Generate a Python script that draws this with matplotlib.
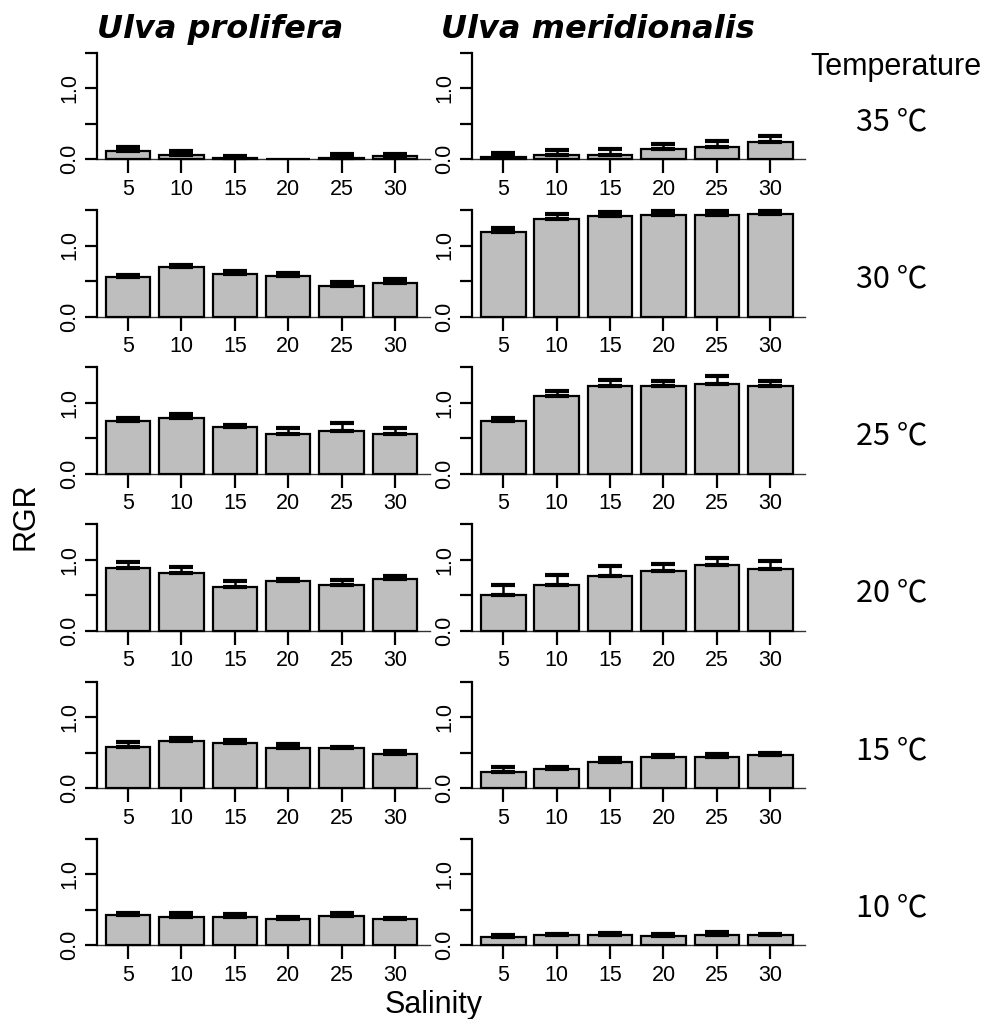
import numpy as np
import matplotlib
matplotlib.use("Agg")
import matplotlib.pyplot as plt
from matplotlib import font_manager as fm

# ===== data =====
salinity = ["5", "10", "15", "20", "25", "30"]
temps = ["35 ℃", "30 ℃", "25 ℃", "20 ℃", "15 ℃", "10 ℃"]
species = ["Ulva prolifera", "Ulva meridionalis"]

# U. prolifera, rows = 35, 30, 25, 20, 15, 10 ℃
pro_mean = [
    [0.12, 0.06, 0.02, 0.00, 0.02, 0.04],
    [0.55, 0.695, 0.605, 0.57, 0.43, 0.47],
    [0.74, 0.78, 0.66, 0.557, 0.60, 0.557],
    [0.89, 0.81, 0.615, 0.70, 0.648, 0.732],
    [0.58, 0.66, 0.63, 0.56, 0.566, 0.486],
    [0.43, 0.40, 0.40, 0.375, 0.418, 0.37],
]
pro_se = [
    [0.05, 0.06, 0.03, 0.00, 0.06, 0.03],
    [0.03, 0.032, 0.035, 0.045, 0.055, 0.055],
    [0.05, 0.06, 0.02, 0.093, 0.11, 0.083],
    [0.087, 0.087, 0.089, 0.037, 0.07, 0.043],
    [0.07, 0.04, 0.05, 0.06, 0.019, 0.034],
    [0.03, 0.06, 0.037, 0.019, 0.032, 0.02],
]

# U. meridionalis
mer_mean = [
    [0.03, 0.056, 0.06, 0.145, 0.17, 0.245],
    [1.19, 1.37, 1.415, 1.43, 1.43, 1.44],
    [0.74, 1.10, 1.23, 1.23, 1.27, 1.23],
    [0.507, 0.653, 0.775, 0.85, 0.925, 0.878],
    [0.23, 0.27, 0.373, 0.434, 0.44, 0.467],
    [0.117, 0.14, 0.146, 0.136, 0.146, 0.146],
]
mer_se = [
    [0.055, 0.074, 0.09, 0.075, 0.09, 0.085],
    [0.06, 0.07, 0.055, 0.05, 0.05, 0.045],
    [0.05, 0.06, 0.09, 0.07, 0.11, 0.08],
    [0.141, 0.131, 0.135, 0.09, 0.105, 0.112],
    [0.07, 0.03, 0.047, 0.026, 0.04, 0.033],
    [0.033, 0.02, 0.034, 0.028, 0.044, 0.018],
]

# ===== fonts =====
names = {f.name for f in fm.fontManager.ttflist}
narrow = "Liberation Sans Narrow" if "Liberation Sans Narrow" in names else "Noto Sans CJK SC"
plt.rcParams["font.family"] = ["Liberation Sans", "DejaVu Sans"]

# ===== figure =====
W, H = 989, 1019
fig = plt.figure(figsize=(W / 100, H / 100), dpi=100)

bar_x = 0.7 + 1.2 * np.arange(6)
col_left = [93.3, 468.6]
col_w = 336.4
row_zero0 = 159.3
row_step = 157.2
px_per_unit = 71.0

for col, (means, ses) in enumerate([(pro_mean, pro_se), (mer_mean, mer_se)]):
    for row in range(6):
        y0 = row_zero0 + row_step * row
        bottom = y0 + 0.06 * px_per_unit
        height = 1.62 * px_per_unit
        ax = fig.add_axes([col_left[col] / W, 1 - bottom / H, col_w / W, height / H])
        m = np.array(means[row])
        s = np.array(ses[row])
        ax.bar(bar_x, m, width=1.0, color="#bebebe", edgecolor="black",
               linewidth=1.6, zorder=2)
        ok = s > 0
        ax.errorbar(bar_x[ok], m[ok], yerr=[np.zeros(ok.sum()), s[ok]],
                    fmt="none", ecolor="black", elinewidth=1.8,
                    capsize=8.5, capthick=3, zorder=3)
        ax.set_xlim(-0.08, 7.48)
        ax.set_ylim(-0.06, 1.56)
        for sp in ["top", "right"]:
            ax.spines[sp].set_visible(False)
        ax.spines["left"].set_position(("data", 0))
        ax.spines["left"].set_bounds(0, 1.5)
        ax.spines["left"].set_linewidth(1.6)
        ax.spines["bottom"].set_position(("data", 0))
        ax.spines["bottom"].set_bounds(0, 7.48)
        ax.spines["bottom"].set_linewidth(1.0)
        ax.spines["bottom"].set_color("#333333")
        ax.spines["bottom"].set_zorder(1)
        ax.set_xticks(bar_x)
        ax.set_xticklabels(salinity, fontsize=15.5)
        ax.set_yticks([0, 0.5, 1.0, 1.5])
        ax.set_yticklabels(["0.0", "", "1.0", ""], fontsize=15.5, rotation=90,
                           va="center")
        ax.tick_params(axis="x", length=10, width=1.6, pad=4, color="black")
        ax.tick_params(axis="y", length=9, width=1.6, pad=3)
        ax.patch.set_visible(False)

# ===== labels =====
fig.text(220 / W, 1 - 38 / H, species[0], fontsize=23, fontweight="bold",
         fontstyle="italic", family="DejaVu Sans", ha="center", va="baseline")
fig.text(598 / W, 1 - 38 / H, species[1], fontsize=23, fontweight="bold",
         fontstyle="italic", family="DejaVu Sans", ha="center", va="baseline")
fig.text(896 / W, 1 - 75 / H, "Temperature", fontsize=22, ha="center",
         va="baseline")
for row, t in enumerate(temps):
    yb = row_zero0 + row_step * row - 29
    fig.text(892 / W, 1 - yb / H, t, fontsize=22, family=[narrow, "Noto Sans CJK SC"],
             ha="center", va="baseline")
fig.text(434 / W, 1 - 1013 / H, "Salinity", fontsize=22, ha="center",
         va="baseline")
fig.text(26 / W, 1 - 516 / H, "RGR", fontsize=22, rotation=90, ha="center",
         va="center")

fig.savefig("out.png", dpi=100)
